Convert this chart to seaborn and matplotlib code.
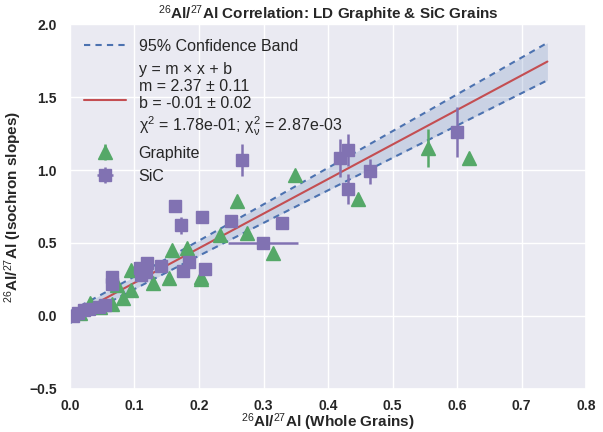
import numpy as np
import matplotlib
matplotlib.use("Agg")
import matplotlib.pyplot as plt
import seaborn as sns

# graphite grains (whole grain ratio vs isochron slope)
gr_x = [0.016, 0.031, 0.047, 0.065, 0.073, 0.082, 0.095, 0.095, 0.128, 0.154,
        0.158, 0.181, 0.203, 0.203, 0.233, 0.259, 0.274, 0.315, 0.349, 0.447,
        0.555, 0.619]
gr_y = [0.02, 0.09, 0.06, 0.08, 0.21, 0.125, 0.18, 0.315, 0.225, 0.26,
        0.45, 0.465, 0.27, 0.25, 0.555, 0.79, 0.57, 0.43, 0.966, 0.80,
        1.15, 1.08]
gr_yerr = [0.01, 0.01, 0.01, 0.01, 0.01, 0.01, 0.01, 0.01, 0.01, 0.01,
           0.01, 0.01, 0.01, 0.01, 0.01, 0.01, 0.01, 0.01, 0.01, 0.01,
           0.13, 0.01]

# SiC grains
sic_x = [0.005, 0.012, 0.022, 0.03, 0.045, 0.054, 0.065, 0.065, 0.108, 0.11,
         0.118, 0.12, 0.141, 0.163, 0.172, 0.175, 0.184, 0.204, 0.209, 0.25,
         0.267, 0.299, 0.328, 0.419, 0.431, 0.431, 0.465, 0.60]
sic_y = [0.0, 0.02, 0.04, 0.05, 0.06, 0.075, 0.27, 0.22, 0.33, 0.28,
         0.30, 0.36, 0.34, 0.75, 0.62, 0.31, 0.37, 0.68, 0.32, 0.65,
         1.07, 0.50, 0.64, 1.08, 1.14, 0.87, 0.99, 1.26]
sic_xerr = [0, 0, 0, 0, 0, 0, 0, 0, 0, 0,
            0, 0, 0, 0, 0, 0, 0, 0, 0, 0,
            0, 0.054, 0, 0, 0, 0, 0, 0]
sic_yerr = [0.01, 0.01, 0.01, 0.01, 0.01, 0.01, 0.01, 0.01, 0.01, 0.01,
            0.01, 0.01, 0.01, 0.01, 0.06, 0.01, 0.01, 0.01, 0.01, 0.01,
            0.11, 0.01, 0.01, 0.13, 0.11, 0.10, 0.085, 0.17]

# fit results
m, m_err = 2.37, 0.11
b, b_err = -0.01, 0.02
x_max = 0.74

sns.set_theme(style="darkgrid")
plt.rcParams['font.family'] = ['Liberation Sans', 'DejaVu Sans']
plt.rcParams['mathtext.fontset'] = 'custom'
plt.rcParams['mathtext.rm'] = 'Liberation Sans'
plt.rcParams['mathtext.it'] = 'Liberation Sans'
plt.rcParams['mathtext.bf'] = 'Liberation Sans:bold'

blue, green, red, purple = "#4C72B0", "#55A868", "#C44E52", "#8172B2"

fig = plt.figure(figsize=(6.03, 4.32), dpi=100)
ax = fig.add_axes([0.116, 0.100, 0.856, 0.844])

xf = np.linspace(0, x_max, 100)
yf = m * xf + b
half = np.sqrt((1.5 * m_err * xf) ** 2 + (2 * b_err) ** 2)

ax.fill_between(xf, yf - half, yf + half, color=blue, alpha=0.2, lw=0)
ax.plot(xf, yf + half, ls=(0, (3, 2.5)), color=blue, lw=1.5,
        label="95% Confidence Band")
ax.plot(xf, yf - half, ls=(0, (3, 2.5)), color=blue, lw=1.5)
sns.lineplot(x=xf, y=yf, color=red, lw=1.5, ax=ax,
             label="y = m × x + b\nm = 2.37 ± 0.11\nb = -0.01 ± 0.02\n"
                   "χ$^2$ = 1.78e-01; χ$^2_\\nu$ = 2.87e-03")

ax.errorbar(gr_x, gr_y, yerr=gr_yerr, fmt='^', color=green, ms=10,
            elinewidth=1.8, capsize=0, label="Graphite")
ax.errorbar(sic_x, sic_y, xerr=sic_xerr, yerr=sic_yerr, fmt='s', color=purple,
            ms=9, elinewidth=1.8, capsize=0, label="SiC")

ax.set_xlim(0, 0.8)
ax.set_ylim(-0.5, 2.0)
ax.set_xticks(np.arange(0, 0.81, 0.1))
ax.set_yticks(np.arange(-0.5, 2.01, 0.5))
for lab in ax.get_xticklabels() + ax.get_yticklabels():
    lab.set_fontweight('bold')
ax.tick_params(labelsize=10)
ax.tick_params(axis='x', pad=1)

ax.set_title("$^{26}$Al/$^{27}$Al Correlation: LD Graphite & SiC Grains",
             fontsize=11, fontweight='bold', pad=4)
ax.set_xlabel("$^{26}$Al/$^{27}$Al (Whole Grains)", fontsize=11,
              fontweight='bold')
ax.xaxis.set_label_coords(0.5, -0.062)
ax.set_ylabel("$^{26}$Al/$^{27}$Al (Isochron slopes)", fontsize=11,
              fontweight='bold')

ax.legend(loc='upper left', fontsize=11.5, frameon=False, handlelength=2.6,
          labelspacing=0.5, borderaxespad=0.5)

fig.savefig("out.png", dpi=100)
